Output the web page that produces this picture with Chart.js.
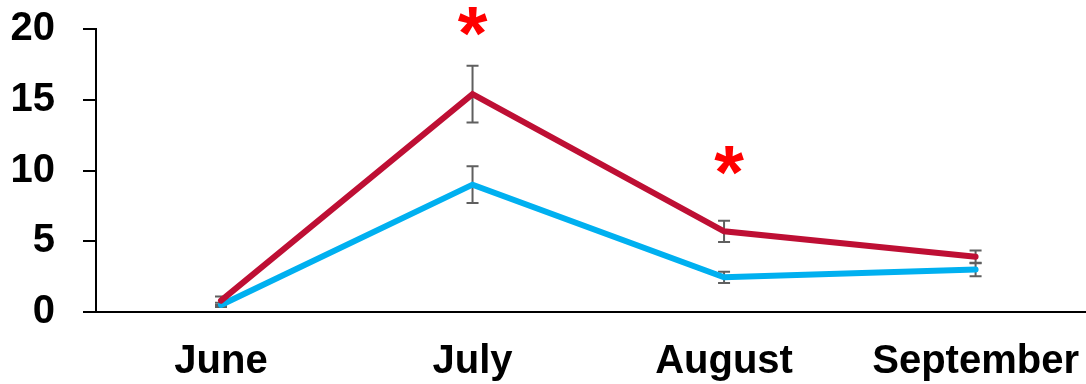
<!DOCTYPE html>
<html>
<head>
<meta charset="utf-8">
<script src="https://cdn.jsdelivr.net/npm/chart.js@4"></script>
<style>
  html, body { margin: 0; padding: 0; background: #ffffff; }
  #wrap { width: 1086px; height: 384px; position: relative; }
</style>
</head>
<body>
<div id="wrap"><canvas id="chart"></canvas></div>
<script>
// Monthly means for the two groups, with their error margins
const months = ['June', 'July', 'August', 'September'];
const redMeans = [0.8, 15.4, 5.7, 3.9];
const redErrors = [0.3, 2.0, 0.75, 0.45];
const blueMeans = [0.5, 9.0, 2.45, 3.0];
const blueErrors = [0.15, 1.3, 0.4, 0.48];
// Significance asterisks: month index (x) and height in axis units (y)
const asteriskMarks = [{ x: 1, y: 20.5 }, { x: 2.02, y: 10.7 }];
const yTicks = [0, 5, 10, 15, 20];

const FONT = '"Liberation Sans", Arial, Helvetica, sans-serif';

const toPoints = (vals) => vals.map((v, i) => ({ x: i, y: v }));

// Vertical error bars with caps, drawn beneath the lines
const errorBars = {
  id: 'errorBars',
  beforeDatasetsDraw(chart) {
    const { ctx, scales: { x, y } } = chart;
    const sets = [[redMeans, redErrors], [blueMeans, blueErrors]];
    ctx.save();
    ctx.strokeStyle = '#5f5f5f';
    ctx.lineWidth = 2;
    sets.forEach(([means, errs]) => {
      means.forEach((m, i) => {
        const px = x.getPixelForValue(i);
        const top = y.getPixelForValue(m + errs[i]);
        const bot = y.getPixelForValue(m - errs[i]);
        ctx.beginPath();
        ctx.moveTo(px, top); ctx.lineTo(px, bot);
        ctx.moveTo(px - 6, top); ctx.lineTo(px + 6, top);
        ctx.moveTo(px - 6, bot); ctx.lineTo(px + 6, bot);
        ctx.stroke();
      });
    });
    ctx.restore();
  }
};

// Red asterisks marking significant months
const asterisks = {
  id: 'asterisks',
  afterDatasetsDraw(chart) {
    const { ctx, scales: { x, y } } = chart;
    ctx.save();
    ctx.fillStyle = '#ff0000';
    ctx.textAlign = 'center';
    ctx.textBaseline = 'alphabetic';
    ctx.font = 'bold 100px ' + FONT;
    const m = ctx.measureText('*');
    const h = m.actualBoundingBoxAscent + m.actualBoundingBoxDescent;
    const size = 100 * 29 / h;
    ctx.font = 'bold ' + size + 'px ' + FONT;
    const m2 = ctx.measureText('*');
    asteriskMarks.forEach((p) => {
      const cx = x.getPixelForValue(p.x);
      const cy = y.getPixelForValue(p.y);
      const base = cy + (m2.actualBoundingBoxAscent - m2.actualBoundingBoxDescent) / 2;
      ctx.fillText('*', cx, base);
    });
    ctx.restore();
  }
};

new Chart(document.getElementById('chart'), {
  type: 'line',
  data: {
    datasets: [
      {
        label: 'Group A',
        data: toPoints(redMeans),
        borderColor: '#be0f34',
        borderWidth: 6,
        pointRadius: 0,
        tension: 0,
        borderCapStyle: 'round',
        borderJoinStyle: 'miter'
      },
      {
        label: 'Group B',
        data: toPoints(blueMeans),
        borderColor: '#00b0f0',
        borderWidth: 6,
        pointRadius: 0,
        tension: 0,
        borderCapStyle: 'round',
        borderJoinStyle: 'miter'
      }
    ]
  },
  options: {
    responsive: true,
    maintainAspectRatio: false,
    animation: false,
    layout: { padding: { top: 29, left: 0, right: 0, bottom: 0 } },
    plugins: { legend: { display: false }, tooltip: { enabled: false } },
    scales: {
      x: {
        type: 'linear',
        min: -0.497,
        max: 3.439,
        afterBuildTicks: (s) => { s.ticks = months.map((_, i) => ({ value: i })); },
        afterFit: (s) => { s.height = 72; s.paddingLeft = 0; s.paddingRight = 0; },
        grid: { display: false, drawTicks: false },
        border: { display: true, color: '#000000', width: 2 },
        ticks: {
          padding: 26,
          color: '#000000',
          maxRotation: 0,
          autoSkip: false,
          font: { family: FONT, size: 40, weight: 'bold' },
          callback: (v) => months[v]
        }
      },
      y: {
        min: 0,
        max: 20,
        afterBuildTicks: (s) => { s.ticks = yTicks.map((v) => ({ value: v })); },
        afterFit: (s) => { s.width = 96; s.paddingTop = 0; s.paddingBottom = 0; },
        grid: { drawOnChartArea: false, drawTicks: true, tickLength: 13, color: '#000000', lineWidth: 2 },
        border: { display: true, color: '#000000', width: 2 },
        ticks: {
          padding: 28,
          color: '#000000',
          font: { family: FONT, size: 40, weight: 'bold' }
        }
      }
    }
  },
  plugins: [errorBars, asterisks]
});
</script>
</body>
</html>
